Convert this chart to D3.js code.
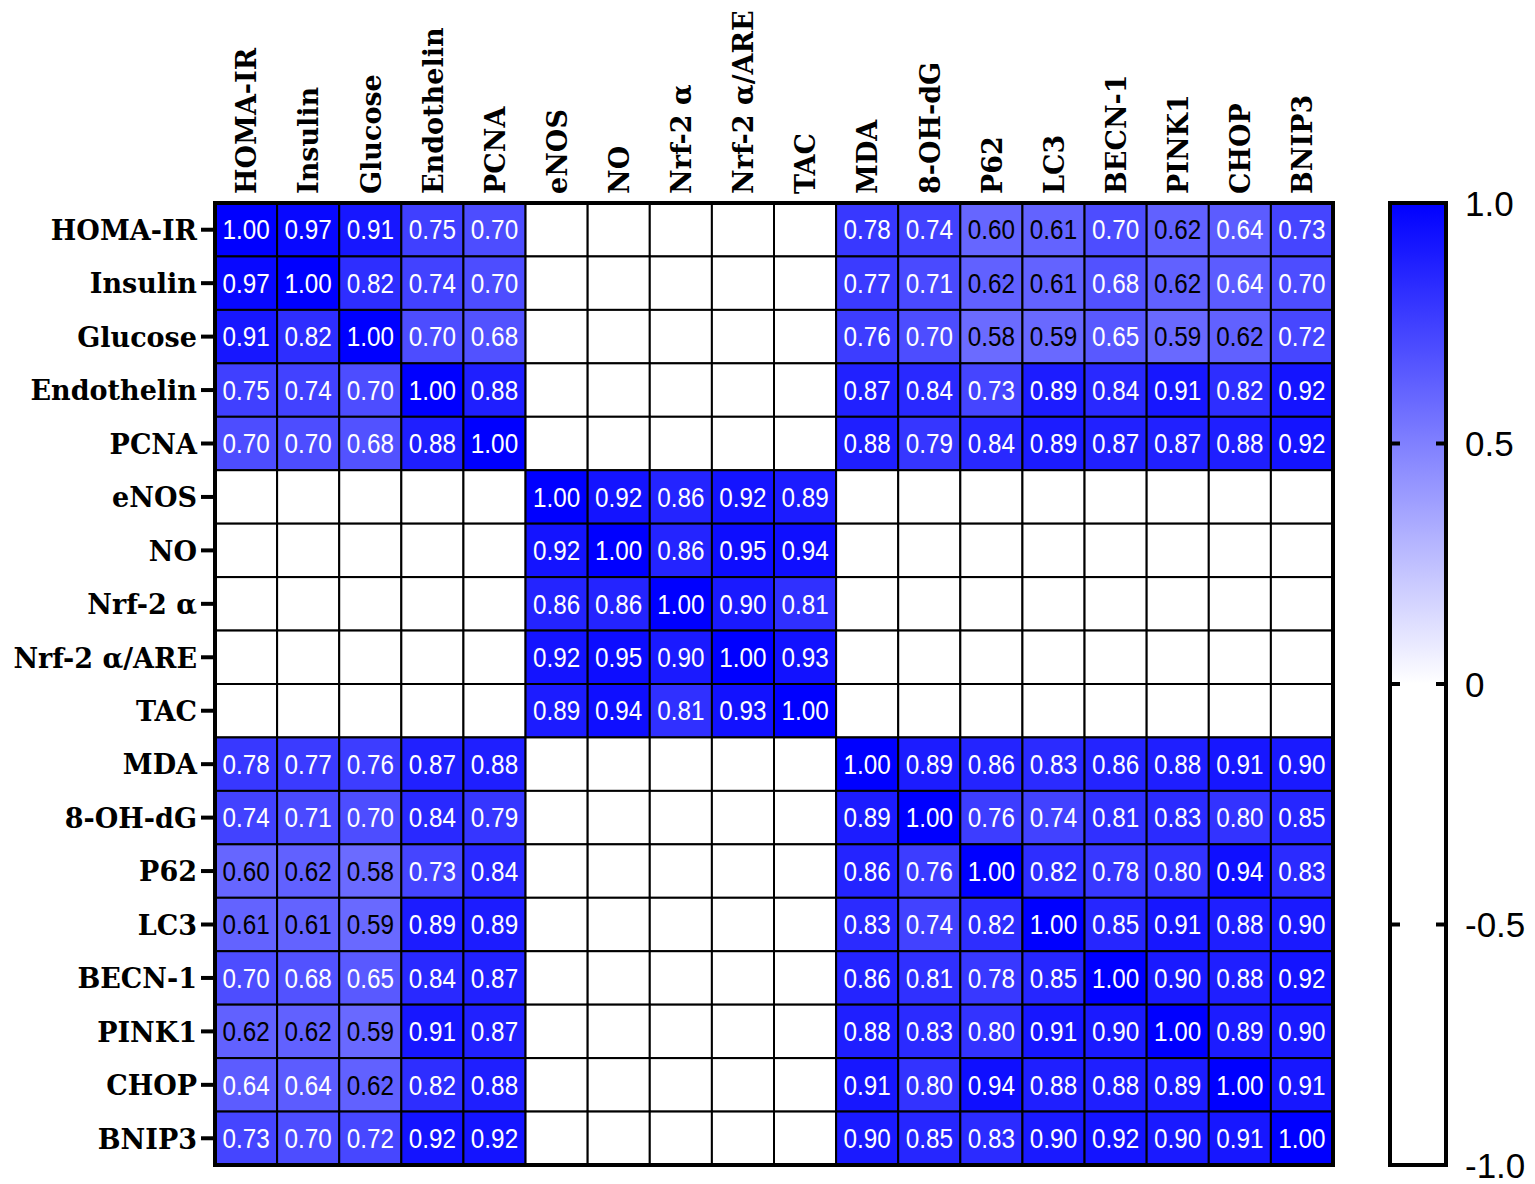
<!DOCTYPE html>
<html>
<head>
<meta charset="utf-8">
<script src="https://cdn.jsdelivr.net/npm/d3@7"></script>
<style>
  html, body { margin: 0; padding: 0; background: #fff; }
  svg { display: block; }
</style>
</head>
<body>
<svg id="chart" width="1535" height="1184"></svg>
<script>
// ---- Data ----
const categories = ["HOMA-IR","Insulin","Glucose","Endothelin","PCNA","eNOS","NO","Nrf-2 α","Nrf-2 α/ARE","TAC","MDA","8-OH-dG","P62","LC3","BECN-1","PINK1","CHOP","BNIP3"];
const _ = null;
const rowHOMA      = [1.00,0.97,0.91,0.75,0.70,_,_,_,_,_,0.78,0.74,0.60,0.61,0.70,0.62,0.64,0.73];
const rowInsulin   = [0.97,1.00,0.82,0.74,0.70,_,_,_,_,_,0.77,0.71,0.62,0.61,0.68,0.62,0.64,0.70];
const rowGlucose   = [0.91,0.82,1.00,0.70,0.68,_,_,_,_,_,0.76,0.70,0.58,0.59,0.65,0.59,0.62,0.72];
const rowEndo      = [0.75,0.74,0.70,1.00,0.88,_,_,_,_,_,0.87,0.84,0.73,0.89,0.84,0.91,0.82,0.92];
const rowPCNA      = [0.70,0.70,0.68,0.88,1.00,_,_,_,_,_,0.88,0.79,0.84,0.89,0.87,0.87,0.88,0.92];
const rowENOS      = [_,_,_,_,_,1.00,0.92,0.86,0.92,0.89,_,_,_,_,_,_,_,_];
const rowNO        = [_,_,_,_,_,0.92,1.00,0.86,0.95,0.94,_,_,_,_,_,_,_,_];
const rowNrf       = [_,_,_,_,_,0.86,0.86,1.00,0.90,0.81,_,_,_,_,_,_,_,_];
const rowNrfARE    = [_,_,_,_,_,0.92,0.95,0.90,1.00,0.93,_,_,_,_,_,_,_,_];
const rowTAC       = [_,_,_,_,_,0.89,0.94,0.81,0.93,1.00,_,_,_,_,_,_,_,_];
const rowMDA       = [0.78,0.77,0.76,0.87,0.88,_,_,_,_,_,1.00,0.89,0.86,0.83,0.86,0.88,0.91,0.90];
const rowOHdG      = [0.74,0.71,0.70,0.84,0.79,_,_,_,_,_,0.89,1.00,0.76,0.74,0.81,0.83,0.80,0.85];
const rowP62       = [0.60,0.62,0.58,0.73,0.84,_,_,_,_,_,0.86,0.76,1.00,0.82,0.78,0.80,0.94,0.83];
const rowLC3       = [0.61,0.61,0.59,0.89,0.89,_,_,_,_,_,0.83,0.74,0.82,1.00,0.85,0.91,0.88,0.90];
const rowBECN      = [0.70,0.68,0.65,0.84,0.87,_,_,_,_,_,0.86,0.81,0.78,0.85,1.00,0.90,0.88,0.92];
const rowPINK      = [0.62,0.62,0.59,0.91,0.87,_,_,_,_,_,0.88,0.83,0.80,0.91,0.90,1.00,0.89,0.90];
const rowCHOP      = [0.64,0.64,0.62,0.82,0.88,_,_,_,_,_,0.91,0.80,0.94,0.88,0.88,0.89,1.00,0.91];
const rowBNIP      = [0.73,0.70,0.72,0.92,0.92,_,_,_,_,_,0.90,0.85,0.83,0.90,0.92,0.90,0.91,1.00];
const matrix = [rowHOMA,rowInsulin,rowGlucose,rowEndo,rowPCNA,rowENOS,rowNO,rowNrf,rowNrfARE,rowTAC,
                rowMDA,rowOHdG,rowP62,rowLC3,rowBECN,rowPINK,rowCHOP,rowBNIP];
const colorbarTicks = [-1, -0.5, 0, 0.5, 1];
const colorbarTickLabels = ["-1.0", "-0.5", "0", "0.5", "1.0"];

// ---- Layout ----
const svg = d3.select("#chart");
const gx0 = 215, gx1 = 1333, gy0 = 203, gy1 = 1165;

const x = d3.scaleBand().domain(categories).range([gx0, gx1]).padding(0);
const y = d3.scaleBand().domain(categories).range([gy0, gy1]).padding(0);
const color = d3.scaleLinear().domain([-1, 0, 1]).range(["#ffffff", "#ffffff", "#0000ff"]).clamp(true);

const cells = [];
matrix.forEach((row, i) => row.forEach((v, j) => cells.push({r: categories[i], c: categories[j], v})));

const g = svg.append("g");
g.selectAll("rect.cell").data(cells).join("rect")
  .attr("class", "cell")
  .attr("x", d => x(d.c)).attr("y", d => y(d.r))
  .attr("width", x.bandwidth()).attr("height", y.bandwidth())
  .attr("fill", d => d.v == null ? "#ffffff" : color(d.v))
  .attr("stroke", "#000").attr("stroke-width", 2);

g.selectAll("text.val").data(cells.filter(d => d.v != null)).join("text")
  .attr("class", "val")
  .attr("transform", d => `translate(${x(d.c) + x.bandwidth() / 2},${y(d.r) + y.bandwidth() / 2}) scale(0.9,1)`)
  .attr("dy", "0.36em")
  .attr("text-anchor", "middle")
  .attr("font-family", "Liberation Sans, Arial, sans-serif")
  .attr("font-size", 27)
  .attr("fill", d => d.v < 0.63 ? "#000" : "#fff")
  .text(d => d3.format(".2f")(d.v));

// outer border
g.append("rect").attr("x", gx0).attr("y", gy0).attr("width", gx1 - gx0).attr("height", gy1 - gy0)
  .attr("fill", "none").attr("stroke", "#000").attr("stroke-width", 4);

// row axis
const yAxis = d3.axisLeft(y).tickSize(13).tickPadding(4);
const ya = svg.append("g").attr("transform", `translate(${gx0 - 1},0)`).call(yAxis);
ya.select(".domain").remove();
ya.selectAll(".tick line").attr("stroke", "#000").attr("stroke-width", 4);
ya.selectAll(".tick text")
  .attr("dy", "0.38em")
  .attr("font-family", "DejaVu Serif, serif").attr("font-weight", "bold")
  .attr("font-size", 27).attr("fill", "#000");

// column labels
svg.append("g").selectAll("text").data(categories).join("text")
  .attr("transform", d => `translate(${x(d) + x.bandwidth() / 2},${gy0 - 9}) rotate(-90)`)
  .attr("dy", "0.38em")
  .attr("text-anchor", "start")
  .attr("font-family", "DejaVu Serif, serif").attr("font-weight", "bold")
  .attr("font-size", 27).attr("fill", "#000")
  .text(d => d);

// ---- Colorbar ----
const cbx0 = 1390, cbx1 = 1446;
const cb = d3.scaleLinear().domain([-1, 1]).range([gy1, gy0]);
const defs = svg.append("defs");
const grad = defs.append("linearGradient").attr("id", "cbgrad")
  .attr("x1", 0).attr("y1", 1).attr("x2", 0).attr("y2", 0);
const stops = d3.range(-1, 1.0001, 0.1);
grad.selectAll("stop").data(stops).join("stop")
  .attr("offset", d => ((d + 1) / 2 * 100) + "%")
  .attr("stop-color", d => color(d));
svg.append("rect").attr("x", cbx0).attr("y", cb(1)).attr("width", cbx1 - cbx0).attr("height", cb(-1) - cb(1))
  .attr("fill", "url(#cbgrad)").attr("stroke", "#000").attr("stroke-width", 4);

const cbt = svg.append("g");
cbt.selectAll("line.l").data(colorbarTicks.filter(t => t > -1 && t < 1)).join("line")
  .attr("x1", cbx0).attr("x2", cbx0 + 10).attr("y1", d => cb(d)).attr("y2", d => cb(d))
  .attr("stroke", "#000").attr("stroke-width", 4);
cbt.selectAll("line.r").data(colorbarTicks.filter(t => t > -1 && t < 1)).join("line")
  .attr("x1", cbx1 - 10).attr("x2", cbx1).attr("y1", d => cb(d)).attr("y2", d => cb(d))
  .attr("stroke", "#000").attr("stroke-width", 4);
cbt.selectAll("text").data(colorbarTicks).join("text")
  .attr("x", 1465).attr("y", d => cb(d)).attr("dy", "0.36em")
  .attr("font-family", "Liberation Sans, Arial, sans-serif").attr("font-size", 35).attr("fill", "#000")
  .text((d, i) => colorbarTickLabels[i]);
</script>
</body>
</html>
